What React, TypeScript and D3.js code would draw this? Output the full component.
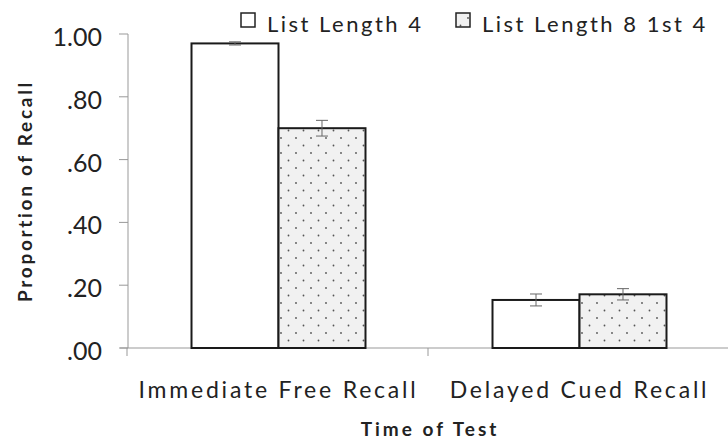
import React from "react";
import * as d3 from "d3";

const categories = ["Immediate Free Recall", "Delayed Cued Recall"];
const seriesNames = ["List Length 4", "List Length 8 1st 4"];
const listLength4 = [0.97, 0.153];
const listLength4Err = [0.005, 0.019];
const listLength8First4 = [0.70, 0.171];
const listLength8First4Err = [0.025, 0.018];
const yTicks = [0, 0.2, 0.4, 0.6, 0.8, 1.0];
const yTickLabels = [".00", ".20", ".40", ".60", ".80", "1.00"];

const W = 728;
const H = 439;
const FONT = "Lato, 'Open Sans', sans-serif";

export default function App() {
  const left = 128;
  const right = 730;
  const top = 34;
  const bottom = 348;
  const y = d3.scaleLinear().domain([0, 1]).range([bottom, top]);
  const x0 = d3.scaleBand<string>().domain(categories).range([left, right]).padding(0);
  const x1 = d3
    .scaleBand<string>()
    .domain(seriesNames)
    .range([0, x0.bandwidth()])
    .paddingInner(0)
    .paddingOuter(0.73);

  const values = [listLength4, listLength8First4];
  const errs = [listLength4Err, listLength8First4Err];

  return (
    <svg
      width={W}
      height={H}
      style={{ position: "absolute", left: 0, top: 0, background: "#fff" }}
      fontFamily={FONT}
    >
      <defs>
        <pattern id="dots" width="15" height="15" patternUnits="userSpaceOnUse">
          <rect width="15" height="15" fill="#f1f1f1" />
          <circle cx="3" cy="3" r="0.9" fill="#555" />
          <circle cx="10.5" cy="10.5" r="0.9" fill="#555" />
        </pattern>
      </defs>

      {/* y axis */}
      <line x1={left} x2={left} y1={y(1)} y2={y(0)} stroke="#999" strokeWidth={1} />
      {yTicks.map((t, i) => (
        <g key={i}>
          <line x1={left - 9} x2={left} y1={y(t)} y2={y(t)} stroke="#999" strokeWidth={1} />
          <text x={102} y={y(t) + 12} textAnchor="end" fontSize={25} fill="#222">
            {yTickLabels[i]}
          </text>
        </g>
      ))}

      {/* x axis */}
      <line x1={left - 8} x2={W} y1={y(0)} y2={y(0)} stroke="#999" strokeWidth={1} />
      {[...categories.map((c) => x0(c) as number), right].map((xv, i) => (
        <line key={i} x1={xv - 1} x2={xv - 1} y1={y(0)} y2={y(0) + 8} stroke="#999" strokeWidth={1} />
      ))}

      {/* bars */}
      {categories.map((c, ci) => (
        <g key={c} transform={`translate(${x0(c)},0)`}>
          {seriesNames.map((s, si) => {
            const v = values[si][ci];
            const e = errs[si][ci];
            const bx = x1(s) as number;
            const bw = x1.bandwidth();
            const cx = bx + bw / 2;
            return (
              <g key={s}>
                <rect
                  x={bx}
                  y={y(v)}
                  width={bw}
                  height={y(0) - y(v)}
                  fill={si === 0 ? "#fff" : "url(#dots)"}
                  stroke="#1a1a1a"
                  strokeWidth={2}
                />
                <line x1={cx} x2={cx} y1={y(v + e)} y2={y(v - e)} stroke="#666" strokeWidth={1} />
                <line x1={cx - 6} x2={cx + 6} y1={y(v + e)} y2={y(v + e)} stroke="#666" strokeWidth={1} />
                <line x1={cx - 6} x2={cx + 6} y1={y(v - e)} y2={y(v - e)} stroke="#666" strokeWidth={1} />
              </g>
            );
          })}
        </g>
      ))}

      {/* category labels */}
      {categories.map((c) => (
        <text
          key={c}
          x={(x0(c) as number) + x0.bandwidth() / 2}
          y={398}
          textAnchor="middle"
          fontSize={23}
          letterSpacing={2.8}
          fill="#222"
        >
          {c}
        </text>
      ))}

      {/* axis titles */}
      <text x={430} y={436} textAnchor="middle" fontSize={19} fontWeight="bold" letterSpacing={3} fill="#222">
        Time of Test
      </text>
      <text
        transform={`translate(32,${(top + bottom) / 2}) rotate(-90)`}
        textAnchor="middle"
        fontSize={19}
        fontWeight="bold"
        letterSpacing={2.7}
        fill="#222"
      >
        Proportion of Recall
      </text>

      {/* legend */}
      {seriesNames.map((s, i) => {
        const lx = i === 0 ? 241 : 456;
        return (
          <g key={s}>
            <rect
              x={lx}
              y={13}
              width={14}
              height={14}
              fill={i === 0 ? "#fff" : "url(#dots)"}
              stroke="#222"
              strokeWidth={1.5}
            />
            <text x={lx + 26} y={32} fontSize={22} letterSpacing={2.5} fill="#222">
              {s}
            </text>
          </g>
        );
      })}
    </svg>
  );
}
